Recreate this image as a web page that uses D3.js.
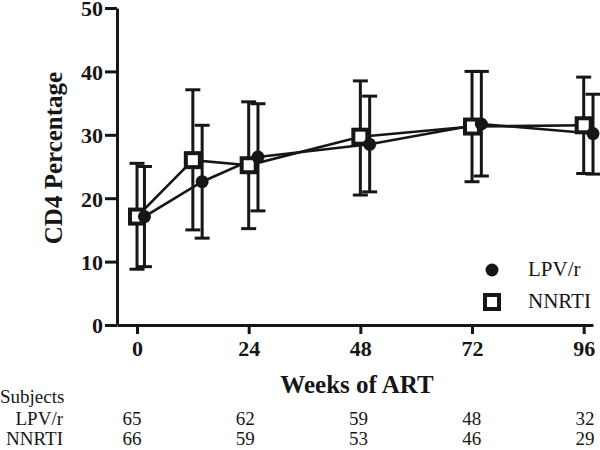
<!DOCTYPE html>
<html><head><meta charset="utf-8">
<script src="https://cdn.jsdelivr.net/npm/d3@7"></script>
<style>body{margin:0;background:#fff}svg{display:block}</style>
</head><body>
<svg id="chart" width="600" height="450"></svg>
<script>
// ---- data ----
const xTicks = [0, 24, 48, 72, 96];
const yTicks = [0, 10, 20, 30, 40, 50];
const nnrtiWeeks = [0, 12, 24, 48, 72, 96];
const nnrtiMean  = [17.1, 26.0, 25.2, 29.7, 31.3, 31.5];
const nnrtiHigh  = [25.5, 37.1, 35.2, 38.5, 40.0, 39.1];
const nnrtiLow   = [8.8, 15.0, 15.2, 20.5, 22.6, 23.9];
const lpvWeeks = [1.6, 14, 26, 50, 74, 98];
const lpvMean  = [17.1, 22.6, 26.5, 28.5, 31.7, 30.2];
const lpvHigh  = [25.0, 31.5, 34.9, 36.1, 40.0, 36.4];
const lpvLow   = [9.2, 13.7, 18.0, 21.0, 23.5, 23.8];
const subjWeeks = ["0", "24", "48", "72", "96"];
const subjLPV   = [65, 62, 59, 48, 32];
const subjNNRTI = [66, 59, 53, 46, 29];

const ink = "#161616";
const serif = "'Liberation Serif', 'Times New Roman', serif";
const svg = d3.select("#chart");

const x = d3.scaleLinear().domain([-4.3, 98]).range([117, 593]);
const y = d3.scaleLinear().domain([0, 50]).range([325, 8]);

// axes
const gx = svg.append("g").attr("transform", `translate(0,${y(0)})`)
  .call(d3.axisBottom(x).tickValues(xTicks).tickSize(9).tickPadding(6).tickSizeOuter(0));
const gy = svg.append("g").attr("transform", `translate(${x.range()[0]},0)`)
  .call(d3.axisLeft(y).tickValues(yTicks).tickSize(12).tickPadding(2).tickSizeOuter(0));
[gx, gy].forEach(g => {
  g.select(".domain").attr("stroke", ink).attr("stroke-width", 3);
  g.selectAll(".tick line").attr("stroke", ink).attr("stroke-width", 3);
  g.selectAll(".tick text").attr("fill", ink).attr("font-family", serif)
    .attr("font-weight", "bold").attr("font-size", 22);
});
gy.selectAll(".tick text").attr("dy", "0.36em");

// axis titles
svg.append("text").attr("x", 357).attr("y", 393).attr("text-anchor", "middle")
  .attr("font-family", serif).attr("font-weight", "bold").attr("font-size", 25)
  .attr("fill", ink).text("Weeks of ART");
svg.append("text").attr("transform", "translate(62,158) rotate(-90)")
  .attr("text-anchor", "middle").attr("font-family", serif).attr("font-weight", "bold")
  .attr("font-size", 25).attr("fill", ink).text("CD4 Percentage");

// series
const series = [
  {name: "NNRTI", w: nnrtiWeeks, m: nnrtiMean, hi: nnrtiHigh, lo: nnrtiLow, shape: "square"},
  {name: "LPV/r", w: lpvWeeks, m: lpvMean, hi: lpvHigh, lo: lpvLow, shape: "circle"}
];
const capW = 7.5;
series.forEach(s => {
  const pts = s.w.map((w, i) => ({w, m: s.m[i], hi: s.hi[i], lo: s.lo[i]}));
  const g = svg.append("g");
  g.selectAll("line.v").data(pts).join("line")
    .attr("x1", d => x(d.w)).attr("x2", d => x(d.w))
    .attr("y1", d => y(d.hi)).attr("y2", d => y(d.lo))
    .attr("stroke", ink).attr("stroke-width", 3);
  ["hi", "lo"].forEach(k => {
    g.selectAll("line." + k).data(pts).join("line")
      .attr("x1", d => x(d.w) - capW).attr("x2", d => x(d.w) + capW)
      .attr("y1", d => y(d[k])).attr("y2", d => y(d[k]))
      .attr("stroke", ink).attr("stroke-width", 3);
  });
  s.pts = pts;
});
series.forEach(s => {
  svg.append("path").datum(s.pts)
    .attr("d", d3.line().x(d => x(d.w)).y(d => y(d.m)))
    .attr("fill", "none").attr("stroke", ink).attr("stroke-width", 2.6);
});
function drawMarker(sel, shape) {
  if (shape === "square") {
    sel.append("rect").attr("x", -7).attr("y", -7).attr("width", 14).attr("height", 14)
      .attr("fill", "#fff").attr("stroke", ink).attr("stroke-width", 4);
  } else {
    sel.append("circle").attr("r", 6.5).attr("fill", ink);
  }
}
series.forEach(s => {
  svg.append("g").selectAll("g").data(s.pts).join("g")
    .attr("transform", d => `translate(${x(d.w)},${y(d.m)})`)
    .each(function() { drawMarker(d3.select(this), s.shape); });
});

// legend
const legendItems = [{name: "LPV/r", shape: "circle"}, {name: "NNRTI", shape: "square"}];
legendItems.forEach((it, i) => {
  const g = svg.append("g").attr("transform", `translate(492,${270 + i * 32})`);
  drawMarker(g, it.shape);
  g.append("text").attr("x", 36).attr("y", 6).attr("font-family", serif)
    .attr("font-size", 21).attr("fill", ink).text(it.name);
});

// subjects table
const col = d3.scalePoint().domain(subjWeeks).range([132, 585]);
const tbl = svg.append("g").attr("font-family", serif).attr("font-size", 19).attr("fill", ink);
tbl.append("text").attr("x", 0).attr("y", 403).text("Subjects");
tbl.append("text").attr("x", 63).attr("y", 425).attr("text-anchor", "end").text("LPV/r");
tbl.append("text").attr("x", 63).attr("y", 445).attr("text-anchor", "end").text("NNRTI");
tbl.selectAll("text.l").data(subjLPV).join("text").attr("class", "l")
  .attr("x", (d, i) => col(subjWeeks[i])).attr("y", 425).attr("text-anchor", "middle").text(d => d);
tbl.selectAll("text.n").data(subjNNRTI).join("text").attr("class", "n")
  .attr("x", (d, i) => col(subjWeeks[i])).attr("y", 445).attr("text-anchor", "middle").text(d => d);
</script>
</body></html>
